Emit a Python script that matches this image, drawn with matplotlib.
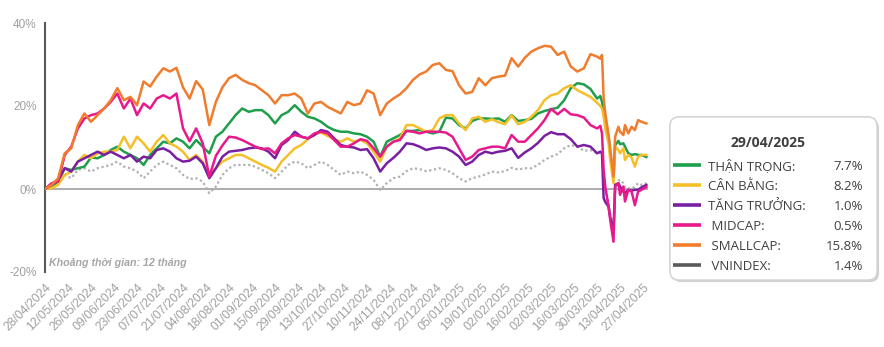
import matplotlib.pyplot as plt
import matplotlib.patheffects as pe
from matplotlib.patches import FancyBboxPatch

# days since 28/04/2024 (every 4 days, then the trading days around the April 2025 drop)
days = list(range(0, 337, 4)) + [338, 339, 340, 341, 343, 344, 346, 347, 349,
                                 350, 352, 353, 355, 357, 359, 361, 363, 366]

than_trong = [0, 0.6, 1.8, 5.0, 4.6, 5.0, 5.4, 7.6, 7.4, 8.2, 9.4, 10.2,
              9.0, 8.2, 7.4, 5.8, 8.2, 9.8, 11.4, 11.0, 12.2, 11.4, 9.8, 11.8,
              10.2, 8.6, 12.6, 13.8, 15.8, 17.8, 19.4, 18.6, 19.0, 19.0, 17.8, 15.8,
              17.8, 18.6, 20.2, 18.6, 17.4, 17.0, 16.2, 15.0, 14.2, 13.8, 13.8, 13.4,
              13.2, 12.6, 11.4, 7.8, 11.4, 12.2, 13.0, 14.0, 14.0, 14.2, 13.8, 13.4,
              13.8, 17.2, 17.0, 15.4, 14.6, 16.4, 17.0, 17.0, 16.9, 17.0, 16.2, 17.8,
              16.4, 16.6, 16.9, 18.2, 18.8, 19.2, 19.6, 21.4, 24.3, 25.5, 25.2, 24.1,
              21.8,
              22.4, 21.0, 19.0, 16.6, 12.6, 8.6, 2.2, 10.6, 11.6, 10.8, 11.0, 10.2,
              8.6, 8.2, 8.4, 8.2, 8.2, 7.7]

can_bang = [0, 0.2, 1.0, 3.4, 4.2, 6.6, 8.2, 7.4, 8.6, 9.0, 9.0, 9.4,
            12.6, 9.8, 12.6, 11.0, 9.0, 11.4, 13.0, 11.0, 10.2, 9.0, 7.0, 8.2,
            6.6, 3.4, 5.0, 6.6, 7.4, 8.2, 8.2, 7.4, 6.6, 5.8, 5.1, 4.2,
            6.6, 8.2, 9.8, 10.6, 12.0, 13.2, 13.6, 12.8, 12.0, 11.4, 12.2, 11.4,
            11.8, 11.0, 9.0, 6.6, 10.2, 11.4, 12.2, 15.4, 15.4, 14.6, 13.8, 14.2,
            17.0, 17.8, 17.8, 15.8, 14.2, 17.0, 17.4, 16.2, 16.8, 16.1, 15.6, 17.7,
            15.6, 16.2, 17.4, 19.0, 21.4, 22.6, 23.0, 24.3, 25.0, 23.8, 23.0, 22.2,
            20.8,
            20.0, 19.4, 17.4, 14.6, 11.0, 7.0, 1.4, 10.2, 9.4, 8.6, 9.8, 7.0,
            8.2, 7.6, 5.4, 7.8, 8.2, 8.2]

tang_truong = [0, 1.0, 2.2, 5.0, 4.2, 6.6, 7.4, 8.2, 9.0, 8.2, 9.0, 8.2,
               7.4, 8.2, 6.6, 7.8, 7.4, 9.4, 9.8, 9.0, 7.4, 6.6, 6.8, 7.8,
               6.2, 2.6, 5.0, 7.8, 9.0, 9.2, 9.4, 9.8, 10.0, 9.8, 9.0, 7.4,
               10.6, 11.8, 13.8, 12.6, 12.2, 13.0, 14.2, 13.8, 12.2, 10.6, 10.2, 10.0,
               9.4, 9.6, 7.4, 4.2, 6.2, 7.5, 9.0, 11.0, 10.8, 10.2, 9.4, 9.8,
               10.0, 9.8, 9.0, 7.8, 5.8, 6.6, 8.2, 9.0, 8.6, 9.0, 9.2, 9.8,
               7.5, 8.8, 9.8, 11.1, 12.8, 13.7, 13.2, 13.2, 12.0, 10.2, 10.6, 10.2,
               8.6,
               9.0, 8.6, -2.2, -3.1, -4.3, -6.7, -10.3, 1.0, 1.4, 0.6, -0.6, -1.0,
               -0.2, -0.4, -0.2, -0.2, 0.4, 1.0]

midcap = [0, 1.4, 1.8, 8.2, 10.2, 14.6, 17.0, 17.8, 18.2, 19.4, 21.0, 23.0,
          19.4, 21.8, 17.8, 20.6, 19.4, 21.8, 22.6, 21.8, 23.0, 14.6, 11.5, 14.6,
          11.0, 3.0, 8.0, 10.5, 12.6, 12.4, 11.8, 11.0, 10.2, 9.6, 9.8, 8.6,
          11.0, 12.2, 13.0, 12.6, 12.2, 13.4, 13.8, 13.4, 11.8, 10.2, 10.2, 11.0,
          12.0, 11.6, 9.8, 7.8, 10.2, 11.4, 11.8, 14.0, 13.8, 13.4, 13.8, 13.8,
          13.8, 13.6, 12.6, 9.8, 7.0, 7.8, 9.4, 9.8, 10.2, 10.2, 9.8, 13.0,
          11.4, 11.4, 13.0, 14.6, 16.6, 19.3, 18.0, 19.3, 18.0, 17.8, 17.2, 15.4,
          14.6,
          15.2, 13.4, 4.6, 0.6, -4.3, -7.5, -12.7, 0.6, 1.4, -1.4, 0.6, -3.0,
          -0.2, -0.6, -3.9, -0.6, -0.2, 0.5]

smallcap = [0, 1.0, 2.6, 8.6, 9.8, 15.4, 18.2, 16.2, 17.8, 19.4, 21.4, 24.3,
            21.4, 22.2, 20.2, 25.9, 24.7, 27.1, 29.1, 28.3, 29.2, 24.5, 21.8, 26.0,
            24.0, 15.4, 21.0, 24.5, 26.7, 27.5, 26.3, 25.5, 25.0, 23.8, 22.6, 20.6,
            22.6, 22.6, 23.0, 21.8, 18.2, 20.6, 21.0, 19.8, 19.0, 18.2, 21.0, 20.2,
            20.6, 23.8, 23.0, 17.8, 20.6, 21.8, 22.8, 24.3, 26.3, 27.6, 28.3, 29.9,
            30.3, 28.7, 28.4, 25.0, 23.0, 23.4, 26.7, 25.0, 26.7, 27.1, 27.3, 31.5,
            29.5, 31.6, 33.1, 33.9, 34.5, 34.3, 32.3, 33.1, 29.5, 28.3, 29.1, 32.5,
            31.9,
            31.4, 32.3, 22.0, 18.2, 13.0, 9.8, 3.0, 12.6, 15.0, 13.8, 13.0, 15.4,
            13.4, 15.0, 14.2, 16.6, 16.2, 15.8]

vnindex = [0, 0.6, 1.4, 3.4, 2.6, 4.6, 5.0, 4.2, 5.0, 5.4, 5.8, 6.6,
           5.4, 5.0, 4.2, 2.6, 4.2, 5.8, 6.6, 5.8, 5.0, 3.4, 2.4, 2.6,
           1.8, -1.0, 0.6, 3.4, 5.0, 5.8, 5.8, 5.8, 5.4, 4.6, 3.8, 2.6,
           4.2, 5.8, 6.6, 6.2, 5.0, 5.8, 6.6, 5.8, 4.6, 3.4, 4.2, 3.8,
           4.2, 3.4, 2.2, -0.2, 1.4, 2.6, 3.0, 4.3, 5.0, 4.8, 4.3, 4.6,
           5.0, 4.6, 3.8, 2.6, 1.8, 2.6, 3.0, 3.5, 4.2, 4.0, 4.3, 5.1,
           4.7, 5.0, 5.0, 5.8, 7.0, 7.8, 8.4, 9.8, 10.6, 10.2, 9.2, 9.4,
           8.6,
           8.8, 8.0, 1.6, 0.2, -3.0, -6.0, -9.5, 0.6, 2.0, 2.2, 1.4, 0.4,
           0.2, 0.0, 0.6, 1.4, 1.0, 1.4]

tick_days = list(range(0, 365, 14))
tick_labels = ['28/04/2024', '12/05/2024', '26/05/2024', '09/06/2024', '23/06/2024',
               '07/07/2024', '21/07/2024', '04/08/2024', '18/08/2024', '01/09/2024',
               '15/09/2024', '29/09/2024', '13/10/2024', '27/10/2024', '10/11/2024',
               '24/11/2024', '08/12/2024', '22/12/2024', '05/01/2025', '19/01/2025',
               '02/02/2025', '16/02/2025', '02/03/2025', '16/03/2025', '30/03/2025',
               '13/04/2025', '27/04/2025']

names = ['THẬN TRỌNG:', 'CÂN BẰNG:', 'TĂNG TRƯỞNG:', ' MIDCAP:', ' SMALLCAP:', ' VNINDEX:']
last_values = ['7.7%', '8.2%', '1.0%', '0.5%', '15.8%', '1.4%']
colors = ['#1f9e4b', '#f5bf2a', '#7a1fa2', '#e8198b', '#f07c2e', '#595959']

plt.rcParams['font.family'] = ['Liberation Sans', 'DejaVu Sans']

fig = plt.figure(figsize=(8.84, 3.47), dpi=100)
ax = fig.add_axes([45 / 884, 1 - 272 / 347, 603 / 884, 249 / 347])

ax.axhline(0, color='#a6a6a6', lw=1.3, zorder=1)
ax.plot(days, vnindex, color='#b0b0b0', lw=1.6, linestyle=(0, (1, 1.2)), zorder=2)
for series, c in zip([than_trong, can_bang, tang_truong, midcap, smallcap], colors[:5]):
    ax.plot(days, series, color=c, lw=1.8, zorder=3)

ax.set_xlim(0, 367)
ax.set_ylim(-20, 40)
ax.set_yticks([-20, 0, 20, 40])
ax.set_yticklabels(['-20%', '0%', '20%', '40%'])
ax.set_xticks(tick_days)
ax.set_xticklabels(tick_labels, rotation=45, ha='right', va='top', rotation_mode='anchor')
ax.tick_params(axis='y', length=0, pad=6, labelsize=8.5, labelcolor='#a0a0a0')
ax.tick_params(axis='x', length=0, pad=7, labelsize=8.8, labelcolor='#a0a0a0')
for side in ['top', 'right', 'bottom']:
    ax.spines[side].set_visible(False)
ax.spines['left'].set_color('#595959')
ax.spines['left'].set_linewidth(1.5)
ax.patch.set_alpha(0)

# overlay in pixel coordinates for the note and the legend box
lax = fig.add_axes([0, 0, 1, 1])
lax.set_xlim(0, 884)
lax.set_ylim(347, 0)
lax.axis('off')

lax.text(49, 266, 'Khoảng thời gian: 12 tháng', fontsize=7.7, style='italic',
         weight='bold', color='#a6a6a6', va='baseline', ha='left')

box = FancyBboxPatch((670, 117), 207, 163, boxstyle='round,pad=0,rounding_size=9',
                     facecolor='white', edgecolor='#d4d4d4', lw=1.0,
                     path_effects=[pe.withSimplePatchShadow(offset=(1.5, -1.5),
                                                            shadow_rgbFace='black',
                                                            alpha=0.18),
                                   pe.Normal()])
lax.add_patch(box)
lax.text(768, 147.3, '29/04/2025', fontsize=10, weight='bold', color='#404040',
         ha='center', va='baseline', family=['Open Sans', 'DejaVu Sans'])
for i, (name, val, c) in enumerate(zip(names, last_values, colors)):
    y = 165 + 20 * i
    lax.plot([673, 701], [y, y], color=c, lw=2.6, solid_capstyle='butt')
    lax.text(708, y + 5, name, fontsize=9.5, color='#404040', ha='left', va='baseline',
             family=['Open Sans', 'DejaVu Sans'])
    lax.text(863, y + 5, val, fontsize=9.5, color='#404040', ha='right', va='baseline',
             family=['Open Sans', 'DejaVu Sans'])

fig.savefig('out.png', dpi=100)
